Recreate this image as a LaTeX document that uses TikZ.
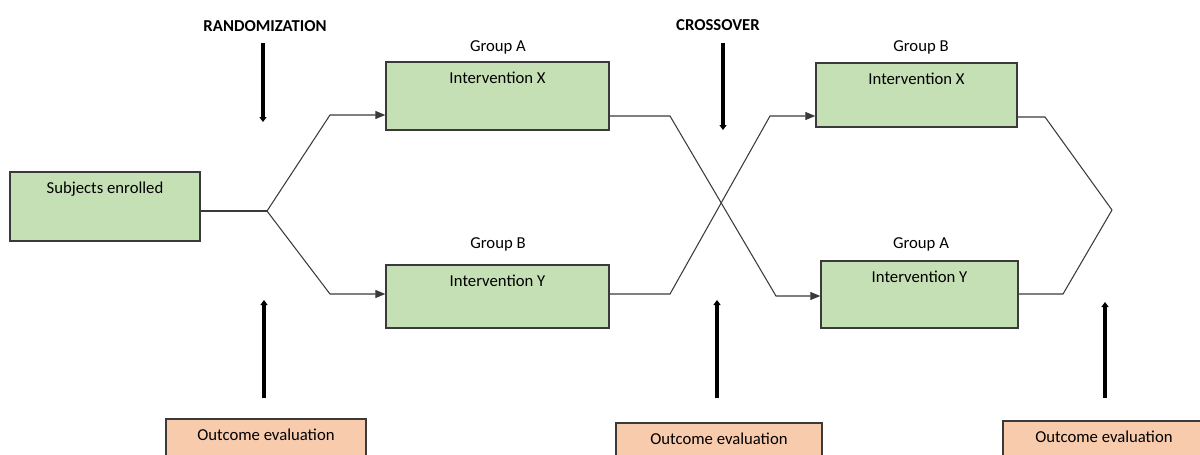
\documentclass[tikz,border=0pt]{standalone}
\usepackage{fontspec}
\setmainfont{Carlito}
\usetikzlibrary{arrows.meta}
\definecolor{verde}{HTML}{C5E0B4}
\definecolor{salmon}{HTML}{F8CBAD}
\definecolor{borde}{HTML}{3A3A3A}
\tikzset{
  caja/.style n args={2}{draw=borde, fill=verde, line width=0.8pt,
    minimum width=#1cm, minimum height=#2cm, inner sep=0pt},
  resultado/.style n args={2}{caja={#1}{#2}, fill=salmon},
  texto/.style={label={[anchor=north, inner sep=0pt, yshift=-0.2cm]north:#1}},
  linea/.style={draw=borde, line width=0.6pt},
  flecha/.style={linea, -{Triangle[length=2mm,width=1.6mm]}},
  grueso/.style={line width=0.75mm, -{Triangle[length=1mm,width=1.4mm]}}
}
\begin{document}
\begin{tikzpicture}[x=0.02cm, y=-0.02cm, font=\fontsize{9.5}{11}\selectfont]
  \clip (0,0) rectangle (1200,454);

  % Cajas
  \node[caja={3.8}{1.38}, texto=Subjects enrolled] (subj) at (105,206.5) {};
  \node[caja={4.46}{1.36}, texto=Intervention X] (ixa) at (497.5,96) {};
  \node[caja={4.46}{1.26}, texto=Intervention Y] (iyb) at (497.5,296.5) {};
  \node[caja={4.02}{1.28}, texto=Intervention X] (ixb) at (916.5,95) {};
  \node[caja={3.94}{1.34}, texto=Intervention Y] (iya) at (919.5,294.5) {};

  % Grupos y fases
  \node (ga1) at (498,47) {Group A};
  \node (gb1) at (498,244) {Group B};
  \node (gb2) at (921,47) {Group B};
  \node (ga2) at (921,244) {Group A};
  \node[font=\fontsize{9.5}{11}\selectfont\bfseries] (rand) at (265,26) {RANDOMIZATION};
  \node[font=\fontsize{9.5}{11}\selectfont\bfseries] (cross) at (718,25) {CROSSOVER};

  % Evaluacion
  \node[resultado={4.0}{1.02}, texto=Outcome evaluation] (out1) at (266,444.5) {};
  \node[resultado={4.12}{1.02}, texto=Outcome evaluation] (out2) at (719,448.5) {};
  \node[resultado={4.04}{1.02}, texto=Outcome evaluation] (out3) at (1104,446.5) {};

  % Aleatorizacion
  \coordinate (split) at (267,211);
  \draw[linea] (subj.east |- split) -- (split);
  \draw[flecha] (split) -- (330,115) -- (ixa.west |- 0,115);
  \draw[flecha] (split) -- (330,294) -- (iyb.west |- 0,294);

  % Cruce
  \draw[flecha] (ixa.east |- 0,116) -- (670,116) -- (776,296) -- (iya.west |- 0,296);
  \draw[flecha] (iyb.east |- 0,294) -- (670,294) -- (770,116) -- (ixb.west |- 0,116);

  % Fin
  \coordinate (fin) at (1112,210);
  \draw[linea] (ixb.east |- 0,117) -- (1045,117) -- (fin);
  \draw[linea] (iya.east |- 0,294) -- (1063,294) -- (fin);

  % Flechas gruesas
  \draw[grueso] (263,43) -- (263,122);
  \draw[grueso] (723,43) -- (723,130);
  \draw[grueso] (264,398) -- (264,300);
  \draw[grueso] (717,398) -- (717,300);
  \draw[grueso] (1105,398) -- (1105,302);
\end{tikzpicture}
\end{document}
